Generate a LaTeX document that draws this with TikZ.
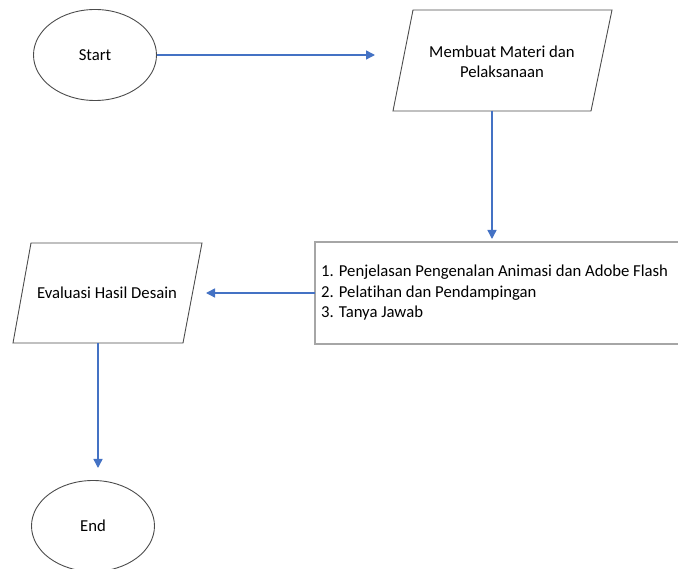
\documentclass[tikz,border=0pt]{standalone}
\usepackage{fontspec}
\setmainfont{Carlito}[Ligatures={NoCommon}]
\usetikzlibrary{arrows.meta}
\usetikzlibrary{shapes.geometric}
\definecolor{FlowBlue}{RGB}{68,114,196}
\newcommand{\flowfont}{\fontsize{16.7}{20.5}\selectfont}
\tikzset{
	>={Triangle[length=9pt,width=9pt]},
	flow/.style={FlowBlue, line width=1.4pt, ->},
	terminal/.style={ellipse, draw=black!70, line width=0.9pt, minimum width=123pt, minimum height=91pt, font=\flowfont},
	iobox/.style={draw=black!70, line width=0.9pt},
	listbox/.style={draw=black!35, line width=1.8pt},
	flowlabel/.style={font=\flowfont, align=center, inner sep=0pt},
	listlabel/.style={font=\flowfont, align=left, inner sep=0pt, anchor=west}
}

\begin{document}
\begin{tikzpicture}[x=1pt, y=-1pt]
	
	\clip (0,0) rectangle (678,569);
	
	% Start
	\node[terminal] (start) at (95,55) {Start};
	
	% Membuat Materi dan Pelaksanaan (parallelogram)
	\draw[iobox] (413,10) -- (612,10) -- (591,111) -- (393,111) -- cycle;
	\node[flowlabel] (materi) at (502,62) {Membuat Materi dan\\Pelaksanaan};
	\coordinate (materiIn) at (375,55);
	\coordinate (materiOut) at (492,111);
	
	% List of activities (box runs off the right edge)
	\draw[listbox] (315,242) rectangle (700,344);
	\node[listlabel] (list) at (321,293) {1. Penjelasan Pengenalan Animasi dan Adobe Flash\\2. Pelatihan dan Pendampingan\\3. Tanya Jawab};
	\coordinate (listIn) at (492,239);
	\coordinate (listOut) at (315,293);
	
	% Evaluasi Hasil Desain (parallelogram)
	\draw[iobox] (31,243) -- (202,243) -- (183,343) -- (13,343) -- cycle;
	\node[flowlabel] (eval) at (107,293) {Evaluasi Hasil Desain};
	\coordinate (evalIn) at (206,293);
	\coordinate (evalOut) at (98,343);
	
	% End
	\node[terminal] (end) at (93,526) {End};
	\coordinate (endIn) at (98,468);
	
	% Connectors
	\draw[flow] (start) -- (materiIn);
	\draw[flow] (materiOut) -- (listIn);
	\draw[flow] (listOut) -- (evalIn);
	\draw[flow] (evalOut) -- (endIn);
	
\end{tikzpicture}
\end{document}
